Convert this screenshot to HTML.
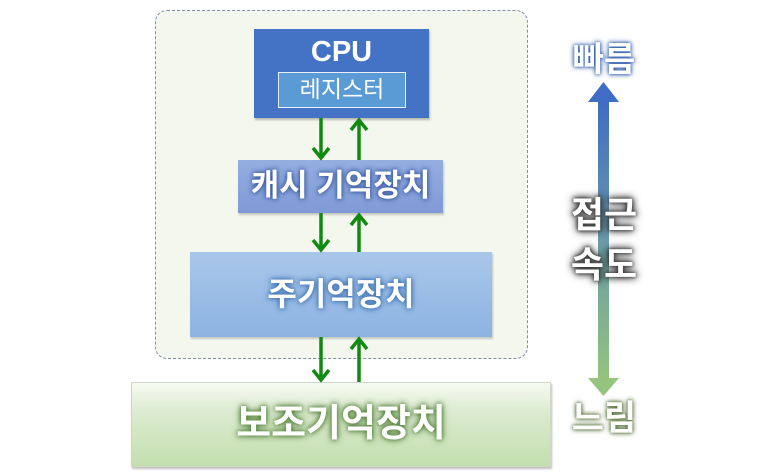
<!DOCTYPE html>
<html><head><meta charset="utf-8"><style>
body{margin:0;width:765px;height:475px;background:#fff;position:relative;overflow:hidden;font-family:"Liberation Sans","Noto Sans CJK KR",sans-serif;}
.a{position:absolute;box-sizing:border-box;}
.glow{color:#fff;font-weight:bold;text-align:center;white-space:nowrap;}
</style></head><body>
<div class="a" style="left:155px;top:10px;width:373px;height:349px;border:1.5px dashed #7f8fa6;border-radius:12px;background:#f4f7ee;"></div>
<div class="a" style="left:254px;top:29px;width:175px;height:89px;background:#4472c4;box-shadow:1px 2px 2px rgba(0,0,0,.25);"></div>
<div class="a glow" style="left:254px;top:34px;width:175px;font-size:29px;line-height:36px;">CPU</div>
<div class="a" style="left:278px;top:72px;width:128px;height:36px;background:#5b9bd5;border:1.5px solid #e8f0fb;color:#fff;font-size:23px;line-height:32px;text-align:center;white-space:nowrap;">레지스터</div>
<div class="a glow" style="left:238px;top:160px;width:205px;height:53px;background:linear-gradient(#94aee0,#7f9ad6);font-size:31px;line-height:52px;text-shadow:0 0 4px #3a5aa0,0 0 6px #3a5aa0;box-shadow:1px 2px 2px rgba(0,0,0,.2);">캐시 기억장치</div>
<div class="a glow" style="left:190px;top:252px;width:302px;height:85px;background:linear-gradient(#a9c7e9,#8db3e2);font-size:32px;line-height:84px;text-shadow:0 0 4px #3a6fb0,0 0 7px #3a6fb0;box-shadow:1px 2px 2px rgba(0,0,0,.2);">주기억장치</div>
<div class="a glow" style="left:131px;top:382px;width:420px;height:85px;background:linear-gradient(#f7faf3,#dcebd0 35%,#c3dfae);border:1px solid #cfd8c8;font-size:38px;line-height:82px;text-shadow:0 0 4px #4a7a30,0 0 8px #4a7a30;box-shadow:1px 2px 2px rgba(0,0,0,.25);">보조기억장치</div>
<svg class="a" style="left:0;top:0" width="765" height="475">
<defs>
<linearGradient id="g" x1="0" y1="0" x2="0" y2="1"><stop offset="0" stop-color="#3f6cc4"/><stop offset=".5" stop-color="#6a9aa8"/><stop offset="1" stop-color="#94c47e"/></linearGradient>
</defs>
<g stroke="#118a11" stroke-width="3.5" fill="none">
<path d="M321 118V158M313 148L321 158L329 148"/>
<path d="M359 160V120M351 130L359 120L367 130"/>
<path d="M321 213V250M313 240L321 250L329 240"/>
<path d="M359 252V215M351 225L359 215L367 225"/>
<path d="M321 337V380M313 370L321 380L329 370"/>
<path d="M359 382V339M351 349L359 339L367 349"/>
</g>
<rect x="598" y="100" width="11" height="280" fill="url(#g)"/>
<path d="M588 102L603.5 82L619 102Z" fill="#3f6cc4"/>
<path d="M588 378L603.5 396L619 378Z" fill="#94c47e"/>
</svg>
<div class="a glow" style="left:560px;top:40px;width:88px;font-size:34px;line-height:40px;text-shadow:0 0 3px #2d5aa8,0 0 6px #2d5aa8;">빠름</div>
<div class="a glow" style="left:560px;top:190px;width:88px;font-size:36px;line-height:50px;text-shadow:0 0 3px #333,0 0 7px #333,0 0 9px #333;">접근<br>속도</div>
<div class="a glow" style="left:560px;top:398px;width:88px;font-size:35px;line-height:42px;text-shadow:0 0 3px #4f6b30,0 0 6px #4f6b30;">느림</div>
</body></html>
